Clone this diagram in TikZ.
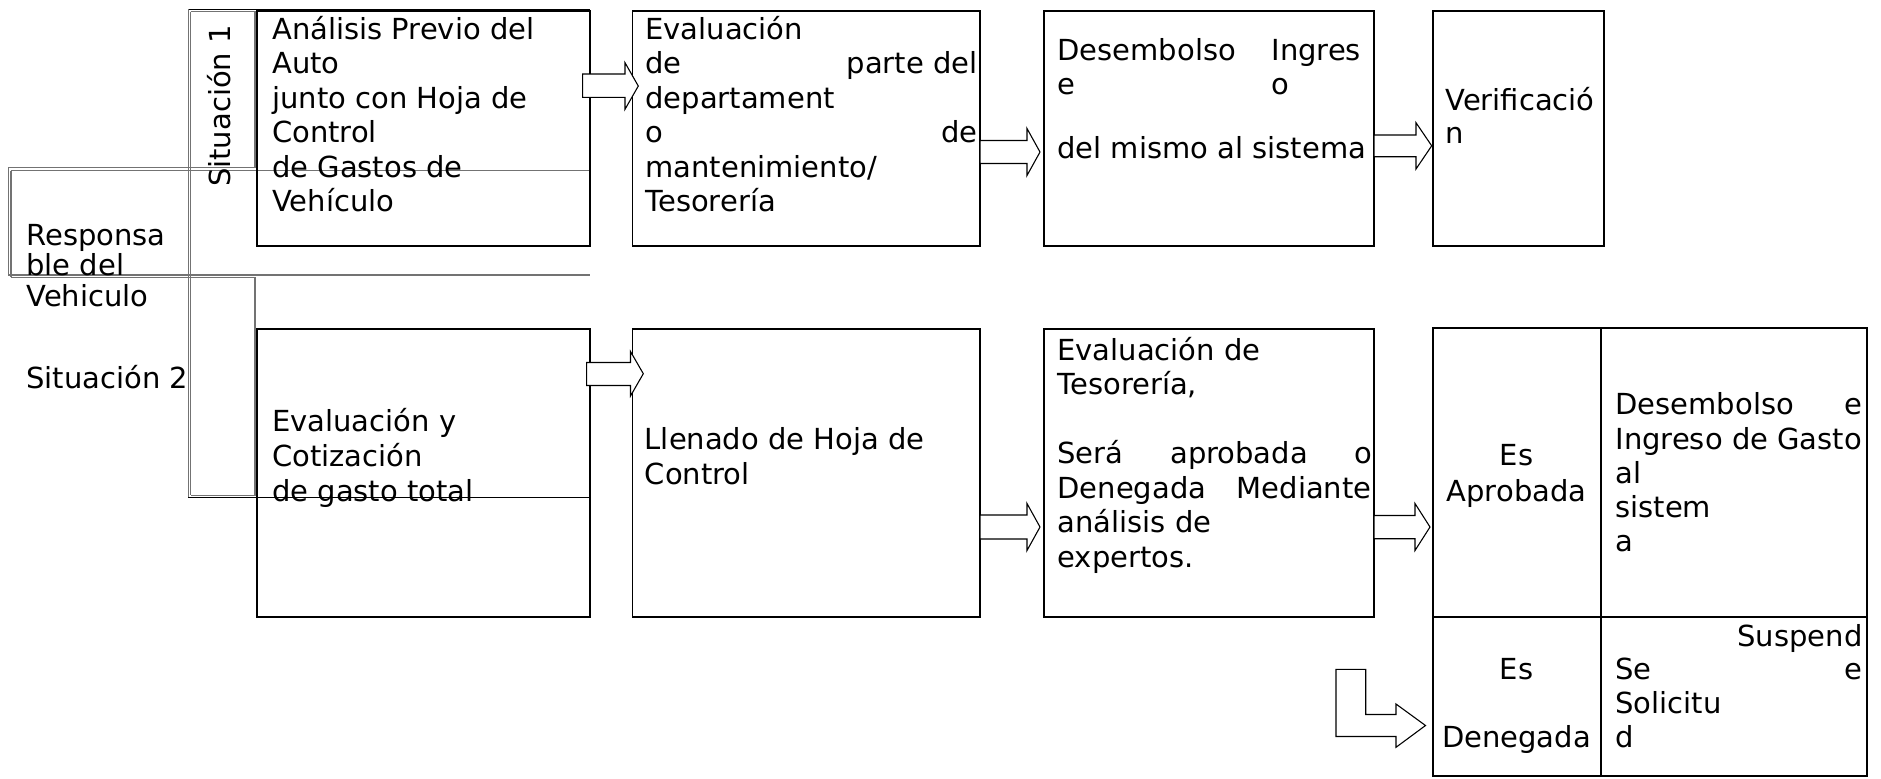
\documentclass[tikz,border=0pt]{standalone}
\usepackage{fontspec}
\setmainfont{DejaVu Sans}
\newdimen\pxu \pxu=0.4138pt
\begin{document}
\begin{tikzpicture}[x=0.4138pt,y=-0.4138pt,
  box/.style={draw=black, line width=0.8pt, inner sep=0pt, outer sep=0pt, anchor=north west},
  txt/.style={anchor=base west, inner sep=0pt, font=\fontsize{12}{14.3}\selectfont},
  ctxt/.style={anchor=base, inner sep=0pt, font=\fontsize{12}{14.3}\selectfont},
  barrow/.style={draw=black, line width=0.45pt, fill=white, line join=miter},
  frameline/.style={draw=black!55, line width=0.45pt},
  thinline/.style={draw=black, line width=0.45pt}]
\useasboundingbox (0,0) rectangle (1881,778);

% ---- left frame ----
\draw[thinline] (188.3,9.3) -- (590,9.3);
\draw[frameline] (188.3,9.3) -- (188.3,497.3);
\draw[frameline] (190.7,11.7) -- (190.7,495.3);
\draw[frameline] (190.7,11.7) -- (255,11.7) -- (255,167.7);
\draw[frameline] (8.3,167.7) -- (255,167.7);
\draw[frameline] (11,170.7) -- (590,170.7);
\draw[frameline] (8.3,167.7) -- (8.3,275);
\draw[frameline] (11,170.7) -- (11,277.3);
\draw[frameline] (8.3,275) -- (590,275);
\draw[frameline] (11,277.3) -- (255,277.3) -- (255,495.3) -- (190.7,495.3);
\draw[thinline] (188.3,497.3) -- (590,497.3);

\node[rotate=90, anchor=base, inner sep=0pt, font=\fontsize{12}{14.3}\selectfont] (s1) at (230,106) {Situación 1};
\node[txt] (r1) at (26,245) {Responsa};
\node[txt] (r2) at (26,275) {ble del};
\node[txt] (r3) at (26,306) {Vehiculo};
\node[txt] (s2) at (26,388.3) {Situación 2};

% ---- boxes ----
\node[box, minimum width=333.3\pxu, minimum height=235\pxu] (A) at (256.7,11) {};
\node[box, minimum width=347.5\pxu, minimum height=235\pxu] (B) at (632.5,11) {};
\node[box, minimum width=330\pxu, minimum height=235\pxu] (C) at (1044,11) {};
\node[box, minimum width=171\pxu, minimum height=235\pxu] (D) at (1432.7,11) {};
\node[box, minimum width=333.3\pxu, minimum height=288\pxu] (E1) at (256.7,329) {};
\node[box, minimum width=347.5\pxu, minimum height=288\pxu] (E2) at (632.5,329) {};
\node[box, minimum width=330\pxu, minimum height=288\pxu] (E3) at (1044,329) {};
\node[box, minimum width=434.6\pxu, minimum height=447.7\pxu] (T) at (1432.7,328.3) {};
\coordinate (Tmt) at (1600.7,328.3);
\coordinate (Tmb) at (1600.7,776);
\coordinate (Tml) at (1432.7,617.3);
\coordinate (Tmr) at (1867.3,617.3);
\draw[line width=0.8pt] (Tmt) -- (Tmb);
\draw[line width=0.8pt] (Tml) -- (Tmr);

% ---- block arrows ----
\draw[barrow] (582.7,74) -- (625,74) -- (625,62.7) -- (638.3,86) -- (625,109.3) -- (625,97.3) -- (582.7,97.3) -- cycle;
\draw[barrow] (980,140.5) -- (1027,140.5) -- (1027,128.5) -- (1040,152) -- (1027,175.5) -- (1027,163.5) -- (980,163.5) -- cycle;
\draw[barrow] (1374,135) -- (1416,135) -- (1416,122.7) -- (1431.7,145.8) -- (1416,169) -- (1416,156.7) -- (1374,156.7) -- cycle;
\draw[barrow] (586.7,362.5) -- (630.5,362.5) -- (630.5,351.5) -- (643.3,373.7) -- (630.5,396) -- (630.5,385.5) -- (586.7,385.5) -- cycle;
\draw[barrow] (980,515) -- (1027,515) -- (1027,503.5) -- (1040,527) -- (1027,550.5) -- (1027,539) -- (980,539) -- cycle;
\draw[barrow] (1374,515.5) -- (1415,515.5) -- (1415,503.5) -- (1430,527) -- (1415,550.5) -- (1415,538.7) -- (1374,538.7) -- cycle;
\draw[barrow] (1336,669.3) -- (1365.7,669.3) -- (1365.7,714.5) -- (1396,714.5) -- (1396,704) -- (1425.5,725.5) -- (1396,747.3) -- (1396,736.5) -- (1336,736.5) -- cycle;

% ---- texts box A ----
\node[txt] (a1) at (271.7,39.3) {Análisis Previo del};
\node[txt] (a2) at (271.7,73.8) {Auto};
\node[txt] (a3) at (271.7,108.3) {junto con Hoja de};
\node[txt] (a4) at (271.7,142.8) {Control};
\node[txt] (a5) at (271.7,177.3) {de Gastos de};
\node[txt] (a6) at (271.7,211.8) {Vehículo};
% box B
\node[txt] (b1) at (645,39.3) {Evaluación};
\node[txt] (b2) at (645,73.8) {\hbox to 332\pxu{de\hfill parte del}};
\node[txt] (b3) at (645,108.3) {departament};
\node[txt] (b4) at (645,142.8) {\hbox to 332\pxu{o\hfill de}};
\node[txt] (b5) at (645,177.3) {mantenimiento/};
\node[txt] (b6) at (645,211.8) {Tesorería};
% box C
\node[txt] (c1) at (1057,60) {Desembolso};
\node[txt] (c2) at (1271,60) {Ingres};
\node[txt] (c3) at (1057,94.5) {e};
\node[txt] (c4) at (1271,94.5) {o};
\node[txt] (c5) at (1057,158.5) {del mismo al sistema};
% box D
\node[txt] (d1) at (1445,110) {Verificació};
\node[txt] (d2) at (1445,143.3) {n};
% box E1
\node[txt] (e11) at (271.7,431.3) {Evaluación y};
\node[txt] (e12) at (271.7,466.3) {Cotización};
\node[txt] (e13) at (271.7,501.3) {de gasto total};
% box E2
\node[txt] (e21) at (644.3,449.7) {Llenado de Hoja de};
\node[txt] (e22) at (644.3,484.7) {Control};
% box E3
\node[txt] (e31) at (1057,360) {Evaluación de};
\node[txt] (e32) at (1057,394.5) {Tesorería,};
\node[txt] (e33) at (1057,463.5) {\hbox to 315\pxu{Será\hfill aprobada\hfill o}};
\node[txt] (e34) at (1057,498) {\hbox to 314\pxu{Denegada\hfill Mediante}};
\node[txt] (e35) at (1057,532.5) {análisis de};
\node[txt] (e36) at (1057,567) {expertos.};
% table
\node[ctxt] (t1) at (1516.5,465.3) {Es};
\node[ctxt] (t2) at (1516.5,501.3) {Aprobada};
\node[ctxt] (t3) at (1516.5,679.7) {Es};
\node[ctxt] (t4) at (1516.5,747.3) {Denegada};
\node[txt] (u1) at (1615,414.7) {\hbox to 247\pxu{Desembolso\hfill e}};
\node[txt] (u2) at (1615,449) {Ingreso de Gasto};
\node[txt] (u3) at (1615,483.3) {al};
\node[txt] (u4) at (1615,517.6) {sistem};
\node[txt] (u5) at (1615,551.9) {a};
\node[txt] (v1) at (1615,646.3) {\hbox to 247\pxu{\hfill Suspend}};
\node[txt] (v2) at (1615,679.7) {\hbox to 247\pxu{Se\hfill e}};
\node[txt] (v3) at (1615,713) {Solicitu};
\node[txt] (v4) at (1615,747.3) {d};
\end{tikzpicture}
\end{document}
